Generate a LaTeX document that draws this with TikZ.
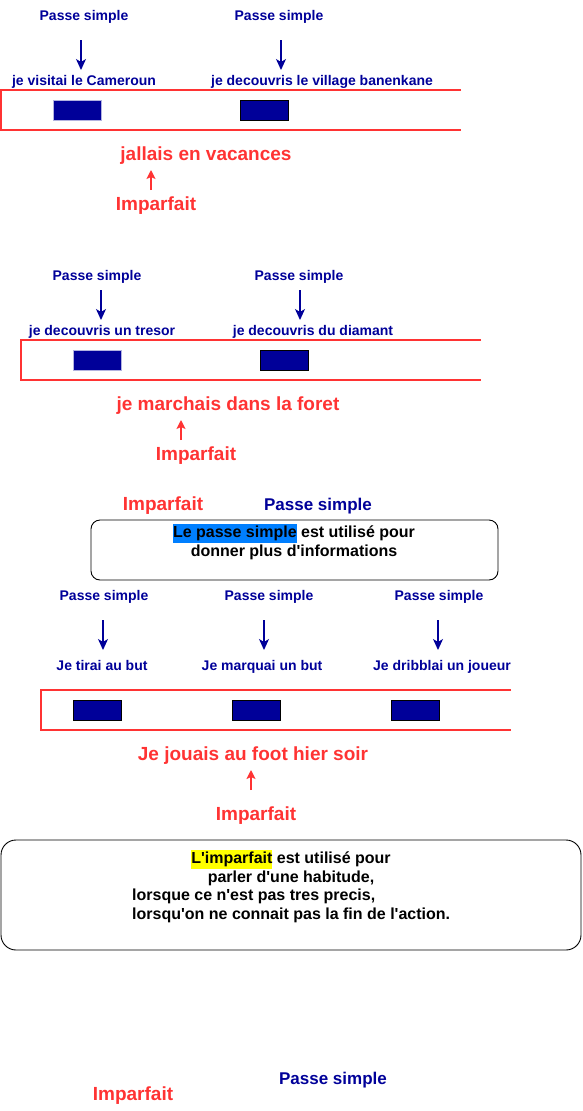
\documentclass[tikz,border=0pt]{standalone}
\usepackage{fontspec}
\setmainfont{Liberation Sans}
\usepackage{xcolor}
\usetikzlibrary{arrows.meta,calc}
\definecolor{psblue}{HTML}{000099}
\definecolor{impred}{HTML}{FF3333}
\definecolor{hlblue}{HTML}{007FFF}
\definecolor{hlyellow}{HTML}{FFFF00}
\newcommand{\hlword}[2]{{\setlength{\fboxsep}{0pt}\colorbox{#1}{\strut #2}}}
\newcommand{\apos}{\textquotesingle}

\begin{document}
\begin{tikzpicture}[x=1pt,y=-1pt,
  ps/.style={text=psblue,font=\fontsize{14}{16}\selectfont\bfseries,text height=1em,text depth=0pt,inner sep=0pt},
  psbig/.style={ps,font=\fontsize{17}{20}\selectfont\bfseries},
  imp/.style={text=impred,font=\fontsize{19}{22}\selectfont\bfseries,text height=1em,text depth=0pt,inner sep=0pt},
  psarrow/.style={psblue,line width=1.3pt,-{Stealth[length=11pt,width=10pt,inset=3pt]}},
  imparrow/.style={impred,line width=1.3pt,-{Stealth[length=9pt,width=9pt,inset=2pt]}},
  timeline/.style={impred,line width=1.5pt},
  evbox/.style={fill=psblue,draw=black,line width=0.8pt,minimum width=48pt,minimum height=20pt,inner sep=0pt},
  evboxl/.style={evbox,draw=psblue!30},
  rulebox/.style={draw=black,line width=0.9pt,rounded corners=9pt,inner sep=0pt},
  ruletext/.style={font=\fontsize{16}{19}\selectfont\bfseries,inner sep=0pt}]
\useasboundingbox (0,0) rectangle (582,1111);

% premier exemple
\node[ps] (ps1) at (84,15) {Passe simple};
\node[ps] (ps2) at (279,15) {Passe simple};
\node[ps] (ev1) at (84,80) {je visitai le Cameroun};
\node[ps] (ev2) at (322,80) {je decouvris le village banenkane};
\draw[psarrow] ($(ps1.center)+(-3,25)$) -- ($(ps1.center |- ev1.center)+(-3,-10)$);
\draw[psarrow] ($(ps2.center)+(2,25)$) -- ($(ps2.center |- ev2.center)+(2,-10)$);
\draw[timeline] (461,90) -- (1,90) -- (1,130) -- (461,130);
\node[evboxl] (bar1) at (77,110) {};
\node[evbox] (bar2) at (264,110) {};
\node[imp] (fond1) at (206,155) {jallais en vacances};
\node[imp] (imp1) at (156,205) {Imparfait};
\draw[imparrow] ($(imp1.center)+(-5,-15)$) -- ($(imp1.center)+(-5,-35)$);

% deuxieme exemple
\node[ps] (ps3) at (97,275) {Passe simple};
\node[ps] (ps4) at (299,275) {Passe simple};
\node[ps] (ev3) at (102,330) {je decouvris un tresor};
\node[ps] (ev4) at (313,330) {je decouvris du diamant};
\draw[psarrow] ($(ps3.center)+(4,15)$) -- ($(ps3.center |- ev3.center)+(4,-10)$);
\draw[psarrow] ($(ps4.center)+(1,15)$) -- ($(ps4.center |- ev4.center)+(1,-10)$);
\draw[timeline] (481,340) -- (21,340) -- (21,380) -- (481,380);
\node[evboxl] (bar3) at (97,360) {};
\node[evbox] (bar4) at (284,360) {};
\node[imp] (fond2) at (228,405) {je marchais dans la foret};
\node[imp] (imp2) at (196,455) {Imparfait};
\draw[imparrow] ($(imp2.center)+(-15,-15)$) -- ($(imp2.center)+(-15,-35)$);

% regle du passe simple
\node[imp] (imp3) at (163,505) {Imparfait};
\node[psbig] (ps5) at (318,505) {Passe simple};
\node[rulebox,minimum width=407pt,minimum height=60pt] (psbox) at (294.5,550) {};
\node[ruletext,align=center] (psrule) at (294,542)
  {\hlword{hlblue}{Le passe simple} est utilisé pour\\donner plus d\apos informations};

% troisieme exemple
\node[ps] (ps6) at (104,595) {Passe simple};
\node[ps] (ps7) at (269,595) {Passe simple};
\node[ps] (ps8) at (439,595) {Passe simple};
\node[ps] (ev5) at (102,665) {Je tirai au but};
\node[ps] (ev6) at (262,665) {Je marquai un but};
\node[ps] (ev7) at (442,665) {Je dribblai un joueur};
\draw[psarrow] ($(ps6.center)+(-1,25)$) -- ($(ps6.center |- ev5.center)+(-1,-15)$);
\draw[psarrow] ($(ps7.center)+(-5,25)$) -- ($(ps7.center |- ev6.center)+(-5,-15)$);
\draw[psarrow] ($(ps8.center)+(-1,25)$) -- ($(ps8.center |- ev7.center)+(-1,-15)$);
\draw[timeline] (511,690) -- (41,690) -- (41,730) -- (511,730);
\node[evbox] (bar5) at (97,710) {};
\node[evbox] (bar6) at (256,710) {};
\node[evbox] (bar7) at (415,710) {};
\node[imp] (fond3) at (253,755) {Je jouais au foot hier soir};
\node[imp] (imp4) at (256,815) {Imparfait};
\draw[imparrow] ($(imp4.center)+(-5,-25)$) -- ($(imp4.center)+(-5,-45)$);

% regle de l'imparfait
\node[rulebox,rounded corners=15pt,minimum width=580pt,minimum height=110pt] (impbox) at (291,895) {};
\node[ruletext,align=center] (imprule) at (291,868)
  {\hlword{hlyellow}{L\apos imparfait} est utilisé pour\\parler d\apos une habitude,};
\node[ruletext,align=left,anchor=west] (imprule2) at (132,906)
  {lorsque ce n\apos est pas tres precis,\\lorsqu\apos on ne connait pas la fin de l\apos action.};

\node[imp] (imp5) at (133,1095) {Imparfait};
\node[psbig] (ps9) at (333,1079) {Passe simple};
\end{tikzpicture}
\end{document}
